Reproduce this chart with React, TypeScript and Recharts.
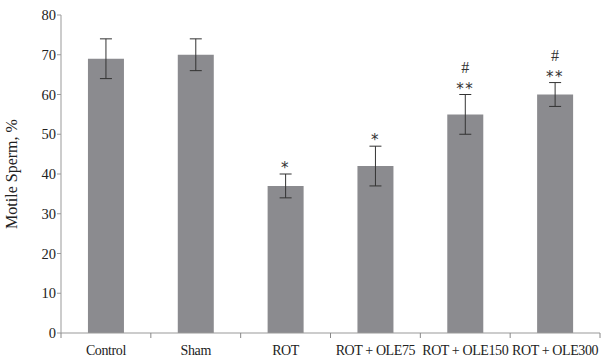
import React from "react";
import {
  BarChart,
  Bar,
  XAxis,
  YAxis,
  ErrorBar,
  LabelList,
} from "recharts";

// Values (mean ± error)
const groups = ["Control", "Sham", "ROT", "ROT + OLE75", "ROT + OLE150", "ROT + OLE300"];
const motile = [69, 70, 37, 42, 55, 60];
const errors = [5, 4, 3, 5, 5, 3];
const stars = ["", "", "*", "*", "**", "**"];
const hashes = ["", "", "", "", "#", "#"];
const yTicks = [0, 10, 20, 30, 40, 50, 60, 70, 80];

const data = groups.map((name, i) => ({
  name,
  value: motile[i],
  err: errors[i],
  idx: i,
}));

const FONT = "'Liberation Serif', 'DejaVu Serif', serif";

// category label plus a short tick at the band edges
const GroupTick = (props: any) => {
  const { x, y, payload, index, visibleTicksCount } = props;
  const half = payload.offset || 0;
  const last = index === visibleTicksCount - 1;
  return (
    <g>
      <line x1={x - half} x2={x - half} y1={y} y2={y + 5} stroke="#888" />
      {last && <line x1={x + half} x2={x + half} y1={y} y2={y + 5} stroke="#888" />}
      <text
        x={x}
        y={y + 22}
        textAnchor="middle"
        fontFamily={FONT}
        fontSize={14}
        letterSpacing={-0.4}
        fill="#222"
      >
        {payload.value}
      </text>
    </g>
  );
};

// draws the significance marks above each error bar
const SigLabel = (props: any) => {
  const { x, y, width, height, value } = props;
  const i = value as number;
  const d = data[i];
  if (!stars[i]) return null;
  const perUnit = height / d.value;
  const errTop = y - d.err * perUnit;
  const cx = x + width / 2;
  return (
    <g>
      <text
        x={cx}
        y={errTop - 1}
        textAnchor="middle"
        fontFamily="'DejaVu Sans', sans-serif"
        fontSize={15}
        fill="#333"
        letterSpacing={1.5}
      >
        {stars[i]}
      </text>
      {hashes[i] && (
        <text
          x={cx}
          y={errTop - 22}
          textAnchor="middle"
          fontFamily={FONT}
          fontSize={16}
          fill="#333"
        >
          {hashes[i]}
        </text>
      )}
    </g>
  );
};

export default function App() {
  return (
    <div style={{ position: "absolute", left: 0, top: 0, background: "#fff" }}>
      <BarChart
        width={616}
        height={359}
        data={data}
        margin={{ top: 15, right: 16, bottom: 0, left: 0 }}
        barCategoryGap="30%"
      >
        <XAxis
          dataKey="name"
          axisLine={{ stroke: "#999" }}
          tickLine={false}
          tickSize={0}
          tickMargin={0}
          height={26}
          interval={0}
          tick={<GroupTick />}
        />
        <YAxis
          domain={[0, 80]}
          ticks={yTicks}
          width={61}
          axisLine={{ stroke: "#999" }}
          tickLine={{ stroke: "#999" }}
          tickSize={4}
          tickMargin={1}
          tick={{ fontFamily: FONT, fontSize: 14.5, fill: "#222" }}
          label={{
            value: "Motile Sperm, %",
            angle: -90,
            position: "insideLeft",
            offset: 11,
            style: {
              fontFamily: FONT,
              fontSize: 16,
              fill: "#222",
              textAnchor: "middle",
            },
          }}
        />
        <Bar dataKey="value" fill="#8b8b8f" isAnimationActive={false}>
          <ErrorBar dataKey="err" width={6} stroke="#333" strokeWidth={1} />
          <LabelList dataKey="idx" content={<SigLabel />} />
        </Bar>
      </BarChart>
    </div>
  );
}
